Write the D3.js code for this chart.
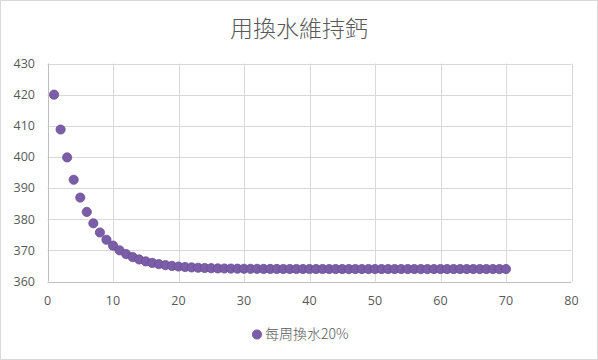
<!DOCTYPE html>
<html><head><meta charset="utf-8">
<script src="https://cdn.jsdelivr.net/npm/d3@7"></script>
<style>
html,body{margin:0;padding:0;background:#fff;}
svg{display:block;}
</style></head><body>
<svg id="c" width="598" height="360"></svg>
<script>
const title = "用換水維持鈣";
const seriesName = "每周換水20%";
const weeks = d3.range(1, 71);
const calcium = [
420, 408.8, 399.84, 392.67, 386.94, 382.35, 378.68, 375.74, 373.40, 371.52,
370.01, 368.81, 367.85, 367.08, 366.46, 365.97, 365.58, 365.26, 365.01, 364.81,
364.65, 364.52, 364.42, 364.33, 364.27, 364.21, 364.17, 364.14, 364.11, 364.09,
364.07, 364.06, 364.04, 364.04, 364.03, 364.02, 364.02, 364.01, 364.01, 364.01,
364.01, 364.01, 364.00, 364.00, 364.00, 364.00, 364.00, 364.00, 364.00, 364.00,
364.00, 364.00, 364.00, 364.00, 364.00, 364.00, 364.00, 364.00, 364.00, 364.00,
364.00, 364.00, 364.00, 364.00, 364.00, 364.00, 364.00, 364.00, 364.00, 364.00
];
const xTicks = [0,10,20,30,40,50,60,70,80];
const yTicks = [360,370,380,390,400,410,420,430];

const svg = d3.select("#c");
const W = 598, H = 360;
svg.append("rect").attr("x",0.5).attr("y",0.5).attr("width",W-1).attr("height",H-1)
  .attr("fill","#fff").attr("stroke","#d9d9d9").attr("stroke-width",1);

const x = d3.scaleLinear().domain([0,80]).range([47.5,571.5]);
const y = d3.scaleLinear().domain([360,430]).range([281.5,63.5]);

// grid
const g = svg.append("g");
g.selectAll(".vg").data(xTicks.slice(1)).enter().append("line")
  .attr("x1",d=>Math.round(x(d))+0.5).attr("x2",d=>Math.round(x(d))+0.5)
  .attr("y1",y(430)).attr("y2",y(360)).attr("stroke","#d9d9d9").attr("stroke-width",1);
g.selectAll(".hg").data(yTicks.slice(1)).enter().append("line")
  .attr("y1",d=>Math.round(y(d))+0.5).attr("y2",d=>Math.round(y(d))+0.5)
  .attr("x1",x(0)).attr("x2",x(80)).attr("stroke","#d9d9d9").attr("stroke-width",1);
// axes lines
g.append("line").attr("x1",Math.round(x(0))+0.5).attr("x2",Math.round(x(0))+0.5)
  .attr("y1",y(430)).attr("y2",y(360)).attr("stroke","#bfbfbf");
g.append("line").attr("x1",x(0)).attr("x2",x(80))
  .attr("y1",Math.round(y(360))+0.5).attr("y2",Math.round(y(360))+0.5).attr("stroke","#bfbfbf");

const font = "'Open Sans','Noto Sans',sans-serif";
// y labels
svg.selectAll(".yl").data(yTicks).enter().append("text")
  .attr("x",35).attr("y",d=>y(d)).attr("dy","0.35em").attr("text-anchor","end")
  .attr("font-family",font).attr("font-size",12.5).attr("fill","#595959").text(d=>d);
// x labels
svg.selectAll(".xl").data(xTicks).enter().append("text")
  .attr("x",d=>x(d)).attr("y",301).attr("dy","0.35em").attr("text-anchor","middle")
  .attr("font-family",font).attr("font-size",12.5).attr("fill","#595959").text(d=>d);

// points
svg.selectAll(".pt").data(weeks).enter().append("circle")
  .attr("cx",(d,i)=>x(d)).attr("cy",(d,i)=>y(calcium[i])).attr("r",4.6)
  .attr("fill","#7b5ea7").attr("stroke","#6a4f96").attr("stroke-width",0.8);

// title
svg.append("text").attr("x",299).attr("y",29).attr("dy","0.35em").attr("text-anchor","middle")
  .attr("font-family","'Noto Sans CJK TC','Noto Sans CJK SC',sans-serif").attr("font-weight",300)
  .attr("font-size",23).attr("fill","#595959").text(title);

// legend
svg.append("circle").attr("cx",257).attr("cy",334.5).attr("r",4.6)
  .attr("fill","#7b5ea7").attr("stroke","#6a4f96").attr("stroke-width",0.8);
svg.append("text").attr("x",265).attr("y",334.5).attr("dy","0.35em")
  .attr("font-family","'Noto Sans CJK TC','Noto Sans CJK SC',sans-serif").attr("font-weight",300)
  .attr("font-size",14).attr("fill","#595959").text(seriesName);
</script>
</body></html>
